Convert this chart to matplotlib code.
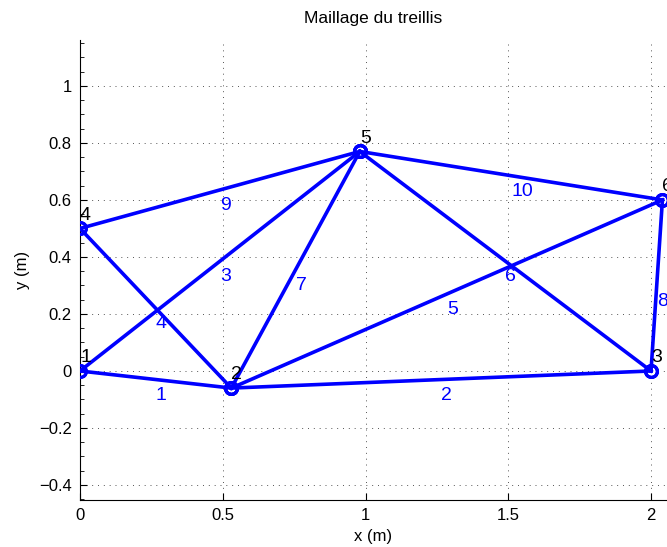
import matplotlib.pyplot as plt
import numpy as np
from matplotlib.ticker import MultipleLocator

plt.rcParams['font.family'] = ['Liberation Sans', 'DejaVu Sans']

# noeuds du treillis (m)
node_x = [0.0, 0.53, 2.0, 0.0, 0.98, 2.04]
node_y = [0.0, -0.06, 0.0, 0.5, 0.77, 0.6]
# barres : noeud debut / noeud fin (numerotation 1..6)
elem_start = [1, 2, 1, 4, 2, 5, 2, 3, 4, 5]
elem_end = [2, 3, 5, 2, 6, 3, 5, 6, 5, 6]

fig = plt.figure(figsize=(6.67, 5.47), dpi=100)
ax = fig.add_axes([80 / 667, 47 / 547, 587 / 667, 460 / 547])

for k in range(len(elem_start)):
    i = elem_start[k] - 1
    j = elem_end[k] - 1
    xs = [node_x[i], node_x[j]]
    ys = [node_y[i], node_y[j]]
    ax.plot(xs, ys, '-o', color='#0000ff', linewidth=2.6, markersize=8.5,
            markerfacecolor='none', markeredgewidth=2.2, zorder=3)
    # numero de la barre, un peu sous le milieu
    xm = (xs[0] + xs[1]) / 2
    ym = (ys[0] + ys[1]) / 2
    ax.text(xm, ym - 0.055, str(k + 1), color='#0000ff', fontsize=14,
            ha='left', va='center', zorder=4)

for n in range(len(node_x)):
    ax.text(node_x[n], node_y[n] + 0.046, str(n + 1), color='black',
            fontsize=14, ha='left', va='center', zorder=4)

ax.set_xlim(0, 2.056)
ax.set_ylim(-0.4526, 1.161)
ax.set_xticks([0, 0.5, 1, 1.5, 2])
ax.set_xticklabels(['0', '0.5', '1', '1.5', '2'])
ax.set_yticks([-0.4, -0.2, 0, 0.2, 0.4, 0.6, 0.8, 1])
ax.set_yticklabels(['\u22120.4', '\u22120.2', '0', '0.2', '0.4', '0.6', '0.8', '1'])
ax.yaxis.set_minor_locator(MultipleLocator(0.05))
ax.tick_params(axis='both', which='both', direction='in', labelsize=12, pad=6)
ax.tick_params(which='major', length=5)
ax.tick_params(which='minor', length=3)
ax.spines['top'].set_visible(False)
ax.spines['right'].set_visible(False)
ax.grid(True, which='major', color='#555555', linestyle=(0, (1, 5)), linewidth=0.7)

ax.set_title('Maillage du treillis', fontsize=12.5, pad=12)
ax.set_xlabel('x (m)', fontsize=12, labelpad=4)
ax.set_ylabel('y (m)', fontsize=12, labelpad=6)

fig.savefig('out.png', dpi=100)
